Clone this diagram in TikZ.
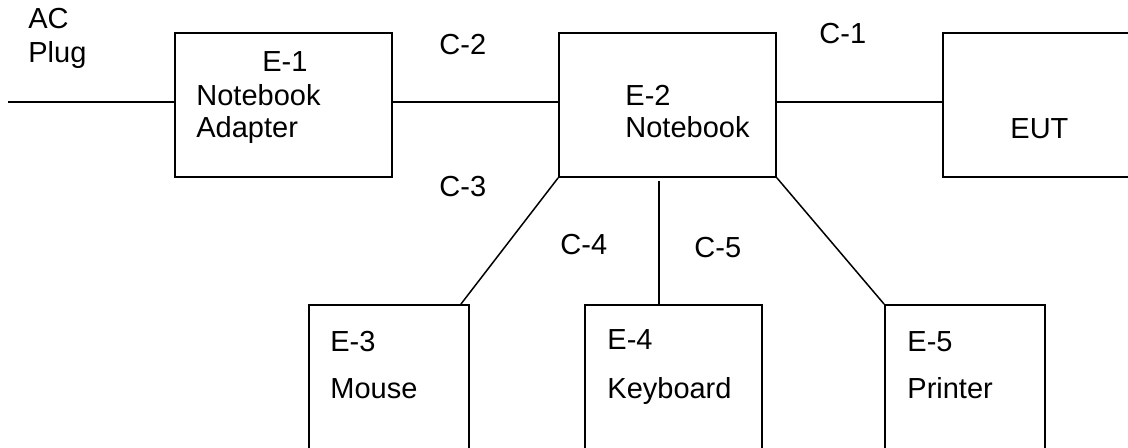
\documentclass[tikz,border=0pt]{standalone}
\usepackage{fontspec}
\setmainfont{Liberation Sans}
\usepackage{tikz}
\usetikzlibrary{calc}

\begin{document}
\begin{tikzpicture}[
  x=0.5pt, y=-0.5pt,
  box/.style={draw, line width=0.9pt, inner sep=0pt, minimum height=72pt},
  wire/.style={line width=0.75pt},
  txt/.style={anchor=base west, inner sep=0pt, font=\fontsize{14.5}{17}\selectfont},
]
\useasboundingbox (0,0) rectangle (1128,448);

% equipment boxes
\node[box, minimum width=108.5pt] (e1) at (283.5,105) {};
\node[box, minimum width=108.5pt] (e2) at (667.5,105) {};
\node[box, minimum width=98.5pt] (eut) at (1041.5,105) {};
\node[box, minimum width=80pt, minimum height=82.5pt] (e3) at (389,387.5) {};
\node[box, minimum width=88.5pt, minimum height=82.5pt] (e4) at (673.5,387.5) {};
\node[box, minimum width=80pt, minimum height=82.5pt] (e5) at (965,387.5) {};

\coordinate (plug) at (8,102);
\coordinate (kb) at (659,305);

% cables
\draw[wire] (plug) -- (plug -| e1.west);
\draw[wire] (e1.east |- plug) -- (e2.west |- plug);
\draw[wire] (e2.east |- plug) -- (eut.west |- plug);
\draw[wire] (e2.south west) -- ($(e3.north east)+(-9,0)$);
\draw[wire] ([yshift=-1.5pt]kb |- e2.south) -- (kb);
\draw[wire] (e2.south east) -- (e5.north west);

% texts
\node[txt] (ac) at (28,29) {AC};
\node[txt] (plugtxt) at (28,63) {Plug};
\node[txt] (e1a) at (262,72) {E-1};
\node[txt] (e1b) at (196,106) {Notebook};
\node[txt] (e1c) at (196,138) {Adapter};
\node[txt] (c2) at (439,55) {C-2};
\node[txt] (c3) at (439,197) {C-3};
\node[txt] (e2a) at (625,106) {E-2};
\node[txt] (e2b) at (625,138) {Notebook};
\node[txt] (c1) at (819,44) {C-1};
\node[txt] (euttxt) at (1010,139) {EUT};
\node[txt] (c4) at (560,255) {C-4};
\node[txt] (c5) at (694,258) {C-5};
\node[txt] (e3a) at (330,351) {E-3};
\node[txt] (e3b) at (330,398) {Mouse};
\node[txt] (e4a) at (607,350) {E-4};
\node[txt] (e4b) at (607,398) {Keyboard};
\node[txt] (e5a) at (907,351) {E-5};
\node[txt] (e5b) at (907,398) {Printer};

\end{tikzpicture}
\end{document}
